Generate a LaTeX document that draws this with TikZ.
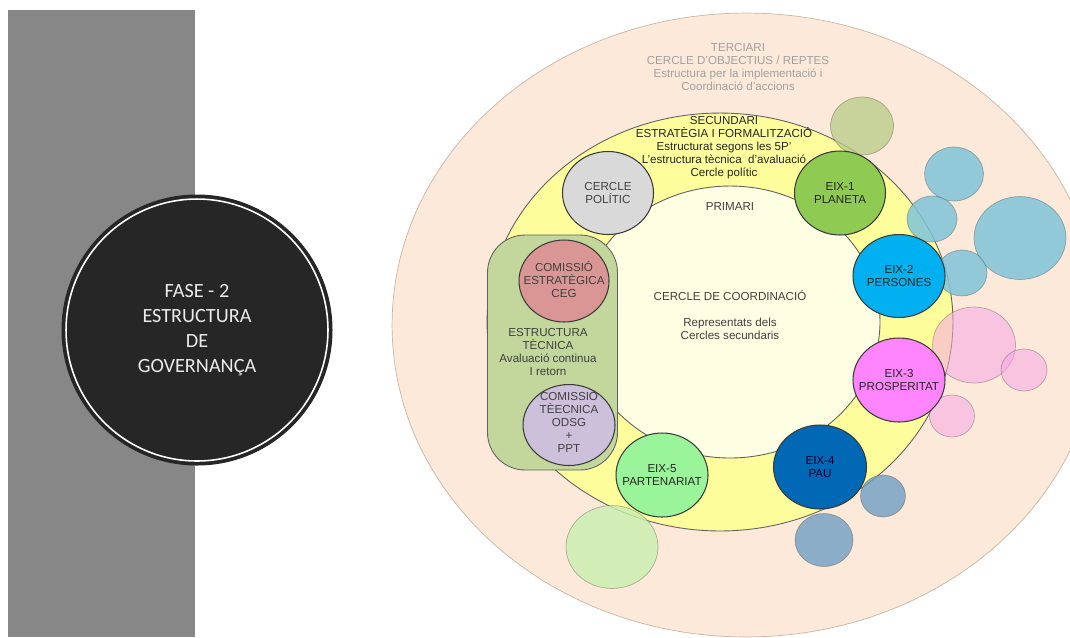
\documentclass[tikz,border=0pt]{standalone}
\usepackage{fontspec}
\setmainfont{Liberation Sans}
\newfontfamily\calib{Carlito}
\usetikzlibrary{shapes.geometric}
\definecolor{barg}{HTML}{878787}
\definecolor{darkc}{HTML}{262626}
\definecolor{peach}{HTML}{FDE9D9}
\definecolor{peachline}{HTML}{C9B6A4}
\definecolor{yell}{HTML}{FDFD9C}
\definecolor{inner}{HTML}{FEFEE2}
\definecolor{boxg}{HTML}{C3D69B}
\definecolor{polc}{HTML}{D9D9D9}
\definecolor{cegc}{HTML}{D99694}
\definecolor{lav}{HTML}{CCC0DA}
\definecolor{e1}{HTML}{8FCA52}
\definecolor{e2}{HTML}{00B0F0}
\definecolor{e3}{HTML}{FF85FF}
\definecolor{e4}{HTML}{0068B4}
\definecolor{e5}{HTML}{9AF59A}
\definecolor{olivec}{HTML}{B5CC85}
\definecolor{lblue}{HTML}{7FC4D8}
\definecolor{lpink}{HTML}{F6A6E6}
\definecolor{steel}{HTML}{6F9FC3}
\definecolor{lgreen}{HTML}{C8EEAE}
\definecolor{txtd}{HTML}{262626}
\definecolor{txtg}{HTML}{A0A0A0}
\definecolor{txtm}{HTML}{404040}
\definecolor{edge}{HTML}{3A3A3A}
\tikzset{
  eix/.style={ellipse, draw=edge, line width=0.6pt, inner sep=0pt},
  lab/.style={font=\fontsize{6.6}{7.4}\selectfont, align=center, text=txtd, inner sep=0pt},
  deco/.style={draw=edge, line width=0.4pt, draw opacity=0.35},
}
\begin{document}
\begin{tikzpicture}[x=0.02cm, y=-0.02cm]
\useasboundingbox (0,0) rectangle (1070,637);
\clip (0,0) rectangle (1070,637);
% left panel
\fill[barg] (8,10) rectangle (195,637);
\node[circle, fill=darkc, draw=darkc, line width=0.6pt, minimum size=5.4cm, inner sep=0pt,
      font=\calib\fontsize{11.5}{14.2}\selectfont, text=black!8, align=center] (fase) at (197,330)
      {FASE - 2\\ESTRUCTURA\\DE\\GOVERNANÇA};
\draw[white, line width=0.9pt] (fase.center) circle [radius=2.62cm];
% rings
\filldraw[fill=peach, draw=peachline, line width=0.4pt] (746,325) ellipse [x radius=7.08cm, y radius=6.24cm];
\filldraw[fill=yell, draw=edge!80, line width=0.5pt] (720,322) ellipse [x radius=4.66cm, y radius=4.18cm];
\filldraw[fill=inner, draw=edge!80, line width=0.5pt] (730,322) ellipse [x radius=3.0cm, y radius=2.72cm];
% decorative circles
\filldraw[deco, fill=olivec, fill opacity=.75] (862,126) ellipse [x radius=0.63cm, y radius=0.58cm];
\filldraw[deco, fill=lblue, fill opacity=.85] (954,174) ellipse [x radius=0.59cm, y radius=0.54cm];
\filldraw[deco, fill=lblue, fill opacity=.85] (932,219) ellipse [x radius=0.5cm, y radius=0.46cm];
\filldraw[deco, fill=lblue, fill opacity=.85] (1020,238) ellipse [x radius=0.92cm, y radius=0.83cm];
\filldraw[deco, fill=lblue, fill opacity=.85] (962,273) ellipse [x radius=0.5cm, y radius=0.46cm];
\filldraw[deco, fill=lpink, fill opacity=.55] (974,345) ellipse [x radius=0.83cm, y radius=0.76cm];
\filldraw[deco, fill=lpink, fill opacity=.55] (1024,370) ellipse [x radius=0.46cm, y radius=0.42cm];
\filldraw[deco, fill=lpink, fill opacity=.55] (952,416) ellipse [x radius=0.45cm, y radius=0.42cm];
\filldraw[deco, fill=steel, fill opacity=.8] (883,496) ellipse [x radius=0.45cm, y radius=0.42cm];
\filldraw[deco, fill=steel, fill opacity=.8] (824,540) ellipse [x radius=0.58cm, y radius=0.53cm];
\filldraw[deco, fill=lgreen, fill opacity=.8] (612,547) ellipse [x radius=0.92cm, y radius=0.83cm];
% texts of rings
\node[lab, text=txtg] (terc) at (738,67) {TERCIARI\\CERCLE D’OBJECTIUS / REPTES\\Estructura per la implementació i\\Coordinació d’accions};
\node[lab] (secu) at (724,147.5) {SECUNDARI\\ESTRATÈGIA I FORMALITZACIÓ\\Estructurat segons les 5P’\\L’estructura tècnica\ \ d’avaluació\\Cercle polític};
\node[lab, text=txtm] (prim) at (730,206) {PRIMARI};
\node[lab, text=txtm] (coord) at (730,296) {CERCLE DE COORDINACIÓ};
\node[lab, text=txtm] (repr) at (730,328.5) {Representats dels\\Cercles secundaris};
% technical structure box
\node[draw=edge!80, fill=boxg, line width=0.5pt, rounded corners=0.75cm, minimum width=2.6cm, minimum height=4.7cm, inner sep=0pt] (tecbox) at (552.5,352.5) {};
\node[lab, text=txtm] (tectxt) at (548,352) {ESTRUCTURA\\TÈCNICA\\Avaluació continua\\I retorn};
% main circles
\node[eix, fill=polc, minimum width=1.82cm, minimum height=1.66cm] (pol) at (608,193) {};
\node[lab, text=txtm] (poltxt) at (pol) {CERCLE\\POLÍTIC};
\node[eix, fill=cegc, minimum width=1.8cm, minimum height=1.64cm] (ceg) at (564,281) {};
\node[lab, text=txtm] (cegtxt) at (564,280) {COMISSIÓ\\ESTRATÈGICA\\CEG};
\node[eix, fill=lav, minimum width=1.84cm, minimum height=1.62cm] (odsg) at (569,425) {};
\node[lab, text=txtm] (odsgtxt) at (569,421) {COMISSIÓ\\TÈECNICA\\ODSG\\+\\PPT};
\node[eix, fill=e1, minimum width=1.82cm, minimum height=1.68cm] (eix1) at (840,193) {};
\node[lab] (eix1t) at (eix1) {EIX-1\\PLANETA};
\node[eix, fill=e2, minimum width=1.84cm, minimum height=1.66cm] (eix2) at (899,276) {};
\node[lab] (eix2t) at (eix2) {EIX-2\\PERSONES};
\node[eix, fill=e3, minimum width=1.84cm, minimum height=1.68cm] (eix3) at (899,380) {};
\node[lab] (eix3t) at (eix3) {EIX-3\\PROSPERITAT};
\node[eix, fill=e4, minimum width=1.86cm, minimum height=1.68cm] (eix4) at (820,467) {};
\node[lab, text=black!85!blue] (eix4t) at (eix4) {EIX-4\\PAU};
\node[eix, fill=e5, minimum width=1.84cm, minimum height=1.68cm] (eix5) at (662,475) {};
\node[lab] (eix5t) at (eix5) {EIX-5\\PARTENARIAT};
\end{tikzpicture}
\end{document}
